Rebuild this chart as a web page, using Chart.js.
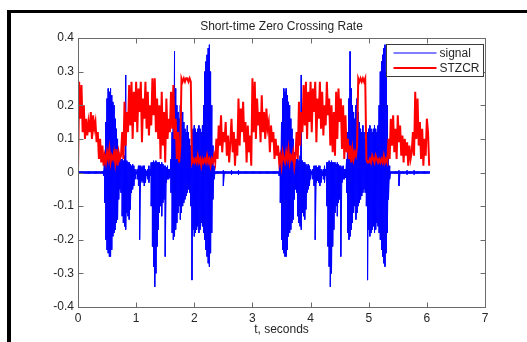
<!DOCTYPE html>
<html><head><meta charset="utf-8">
<script src="https://cdn.jsdelivr.net/npm/chart.js@4/dist/chart.umd.min.js"></script>
<style>
html,body{margin:0;padding:0;background:#fff;}
#wrap{position:relative;width:527px;height:342px;overflow:hidden;background:#fff;}
#frame{position:absolute;left:7px;top:10px;width:700px;height:500px;border-top:3px solid #000;border-left:4px solid #000;pointer-events:none;}
canvas{position:absolute;left:0;top:0;}
</style></head><body>
<div id="wrap"><canvas id="c" width="527" height="342"></canvas><div id="frame"></div></div>
<script>
// ---------------- data ----------------
const chartTitle = 'Short-time Zero Crossing Rate';
const xTitle = 't, seconds';
const seriesNames = ['signal', 'STZCR'];
const sampleStep = 0.02; // seconds between samples
const xTickVals = [0,1,2,3,4,5,6,7];
const xTickLabels = ['0','1','2','3','4','5','6','7'];
const yTickVals = [-0.4,-0.3,-0.2,-0.1,0,0.1,0.2,0.3,0.4];
const yTickLabels = ['-0.4','-0.3','-0.2','-0.1','0','0.1','0.2','0.3','0.4'];

// signal: upper envelope per sample
const sigHi = [
0.003,0.003,0.003,0.003,0.003,0.003,0.003,0.003,0.003,0.003,
0.003,0.003,0.003,0.003,0.003,0.003,0.003,0.003,0.003,0.003,
0.003,0.003,0.005,0.06,0.15,0.22,0.25,0.24,0.25,0.23,
0.21,0.2,0.16,0.13,0.1,0.06,0.05,0.04,0.04,0.035,
0.05,0.29,0.035,0.03,0.03,0.025,0.02,0.025,0.02,0.01,
0.005,0.01,0.02,0.02,0.02,0.015,0.02,0.02,0.01,0.005,
0.01,0.02,0.01,0.03,0.03,0.035,0.03,0.035,0.03,0.03,
0.03,0.025,0.03,0.025,0.02,0.02,0.015,0.02,0.01,0.01,
0.04,0.12,0.22,0.36,0.25,0.2,0.18,0.16,0.2,0.22,
0.18,0.15,0.13,0.12,0.14,0.12,0.1,0.08,0.12,0.13,
0.14,0.13,0.12,0.13,0.14,0.13,0.12,0.14,0.2,0.3,
0.33,0.35,0.37,0.38,0.3,0.2,0.08,0.02,0.003,0.003,
0.003,0.003,0.003,0.003,0.003,0.006,0.003,0.003,0.003,0.003,
0.003,0.003,0.006,0.003,0.003,0.003,0.003,0.003,0.006,0.003,
0.003,0.003,0.003,0.003,0.003,0.003,0.003,0.003,0.003,0.003,
0.003,0.003,0.003,0.003,0.003,0.003,0.003,0.003,0.003,0.003,
0.003,0.003,0.003,0.003,0.003,0.003,0.003,0.003,0.003,0.003,
0.003,0.003,0.003,0.005,0.06,0.15,0.22,0.25,0.24,0.25,
0.23,0.21,0.2,0.16,0.13,0.1,0.06,0.05,0.04,0.04,
0.035,0.05,0.29,0.035,0.03,0.03,0.025,0.02,0.025,0.02,
0.01,0.005,0.01,0.02,0.02,0.02,0.015,0.02,0.02,0.01,
0.005,0.01,0.02,0.01,0.03,0.03,0.035,0.03,0.035,0.03,
0.03,0.03,0.025,0.03,0.025,0.02,0.02,0.015,0.02,0.01,
0.01,0.04,0.12,0.22,0.36,0.25,0.2,0.18,0.16,0.2,
0.22,0.18,0.15,0.13,0.12,0.14,0.12,0.1,0.08,0.12,
0.13,0.14,0.13,0.12,0.13,0.14,0.13,0.12,0.14,0.2,
0.3,0.33,0.35,0.37,0.38,0.3,0.2,0.08,0.02,0.003,
0.003,0.003,0.003,0.003,0.003,0.003,0.006,0.003,0.003,0.003,
0.003,0.003,0.003,0.006,0.003,0.003,0.003,0.003,0.003,0.006,
0.003,0.003,0.003,0.003,0.003,0.003,0.003,0.003,0.003,0.003,
0.003,0.003,0.003
];
// signal: lower envelope per sample
const sigLo = [
-0.003,-0.003,-0.003,-0.003,-0.003,-0.003,-0.003,-0.003,-0.003,-0.003,
-0.003,-0.003,-0.003,-0.003,-0.003,-0.003,-0.003,-0.003,-0.003,-0.003,
-0.003,-0.003,-0.01,-0.09,-0.2,-0.23,-0.24,-0.25,-0.25,-0.23,
-0.19,-0.18,-0.17,-0.15,-0.14,-0.08,-0.05,-0.06,-0.13,-0.15,
-0.16,-0.17,-0.12,-0.13,-0.14,-0.11,-0.06,-0.05,-0.04,-0.02,
-0.005,-0.02,-0.04,-0.2,-0.03,-0.025,-0.03,-0.04,-0.03,-0.01,
-0.02,-0.03,-0.01,-0.1,-0.22,-0.28,-0.34,-0.3,-0.22,-0.17,
-0.12,-0.1,-0.13,-0.09,-0.08,-0.25,-0.03,-0.02,-0.02,-0.015,
-0.06,-0.18,-0.2,-0.19,-0.17,-0.15,-0.12,-0.1,-0.14,-0.12,
-0.1,-0.09,-0.08,-0.07,-0.06,-0.05,-0.06,-0.1,-0.32,-0.17,
-0.19,-0.18,-0.17,-0.16,-0.18,-0.17,-0.15,-0.16,-0.18,-0.2,
-0.23,-0.25,-0.27,-0.28,-0.24,-0.18,-0.08,-0.02,-0.003,-0.003,
-0.003,-0.003,-0.003,-0.003,-0.003,-0.04,-0.003,-0.003,-0.003,-0.003,
-0.003,-0.003,-0.006,-0.003,-0.003,-0.003,-0.003,-0.003,-0.006,-0.003,
-0.003,-0.003,-0.003,-0.003,-0.003,-0.003,-0.003,-0.003,-0.003,-0.003,
-0.003,-0.003,-0.003,-0.003,-0.003,-0.003,-0.003,-0.003,-0.003,-0.003,
-0.003,-0.003,-0.003,-0.003,-0.003,-0.003,-0.003,-0.003,-0.003,-0.003,
-0.003,-0.003,-0.003,-0.01,-0.09,-0.2,-0.23,-0.24,-0.25,-0.25,
-0.23,-0.19,-0.18,-0.17,-0.15,-0.14,-0.08,-0.05,-0.06,-0.13,
-0.15,-0.16,-0.17,-0.12,-0.13,-0.14,-0.11,-0.06,-0.05,-0.04,
-0.02,-0.005,-0.02,-0.04,-0.2,-0.03,-0.025,-0.03,-0.04,-0.03,
-0.01,-0.02,-0.03,-0.01,-0.1,-0.22,-0.28,-0.34,-0.3,-0.22,
-0.17,-0.12,-0.1,-0.13,-0.09,-0.08,-0.25,-0.03,-0.02,-0.02,
-0.015,-0.06,-0.18,-0.2,-0.19,-0.17,-0.15,-0.12,-0.1,-0.14,
-0.12,-0.1,-0.09,-0.08,-0.07,-0.06,-0.05,-0.06,-0.1,-0.32,
-0.17,-0.19,-0.18,-0.17,-0.16,-0.18,-0.17,-0.15,-0.16,-0.18,
-0.2,-0.23,-0.25,-0.27,-0.28,-0.24,-0.18,-0.08,-0.02,-0.003,
-0.003,-0.003,-0.003,-0.003,-0.003,-0.003,-0.04,-0.003,-0.003,-0.003,
-0.003,-0.003,-0.003,-0.006,-0.003,-0.003,-0.003,-0.003,-0.003,-0.006,
-0.003,-0.003,-0.003,-0.003,-0.003,-0.003,-0.003,-0.003,-0.003,-0.003,
-0.003,-0.003,-0.003
];
// short-time zero crossing rate per sample
const stzcr = [
0.00,0.27,0.16,0.26,0.12,0.20,0.10,0.16,0.11,0.15,
0.12,0.18,0.10,0.17,0.13,0.15,0.09,0.12,0.04,0.10,
0.03,0.08,0.02,0.05,0.03,0.06,0.04,0.07,0.03,0.05,
0.04,0.06,0.03,0.07,0.02,0.06,0.04,0.05,0.12,0.04,
0.21,0.08,0.18,0.12,0.26,0.14,0.27,0.10,0.24,0.15,
0.27,0.12,0.25,0.18,0.27,0.09,0.22,0.16,0.27,0.13,
0.24,0.11,0.20,0.14,0.28,0.17,0.28,0.12,0.22,0.10,
0.20,0.04,0.24,0.08,0.18,0.03,0.22,0.10,0.16,0.12,
0.24,0.13,0.26,0.10,0.16,0.04,0.12,0.03,0.08,0.28,
0.27,0.28,0.27,0.28,0.28,0.27,0.28,0.27,0.03,0.04,
0.03,0.04,0.03,0.05,0.03,0.04,0.02,0.04,0.03,0.04,
0.03,0.05,0.03,0.04,0.02,0.04,0.03,0.05,0.03,0.10,
0.04,0.14,0.08,0.17,0.06,0.12,0.09,0.15,0.05,0.11,
0.03,0.09,0.16,0.06,0.12,0.02,0.10,0.05,0.22,0.08,
0.19,0.12,0.21,0.09,0.15,0.03,0.14,0.06,0.11,0.02,
0.28,0.12,0.27,0.10,0.22,0.14,0.18,0.09,0.23,0.12,
0.18,0.10,0.19,0.13,0.15,0.06,0.14,0.09,0.12,0.04,
0.10,0.05,0.08,0.03,0.05,0.02,0.06,0.04,0.03,0.06,
0.04,0.07,0.03,0.05,0.04,0.06,0.02,0.05,0.12,0.04,
0.21,0.08,0.18,0.12,0.26,0.14,0.27,0.10,0.24,0.15,
0.27,0.12,0.25,0.18,0.27,0.09,0.22,0.16,0.27,0.13,
0.24,0.11,0.20,0.14,0.27,0.17,0.22,0.08,0.20,0.06,
0.18,0.05,0.24,0.10,0.25,0.15,0.22,0.07,0.20,0.04,
0.17,0.06,0.10,0.04,0.08,0.03,0.07,0.04,0.06,0.05,
0.08,0.28,0.27,0.28,0.27,0.28,0.27,0.28,0.04,0.03,
0.03,0.04,0.03,0.05,0.04,0.03,0.05,0.04,0.03,0.04,
0.03,0.04,0.03,0.05,0.03,0.04,0.03,0.10,0.04,0.16,
0.08,0.17,0.06,0.13,0.04,0.17,0.09,0.14,0.05,0.11,
0.03,0.10,0.05,0.09,0.02,0.08,0.04,0.06,0.12,0.05,
0.24,0.10,0.22,0.08,0.15,0.04,0.13,0.02,0.10,0.05,
0.16,0.12,0.02
];

// ---------------- build library data ----------------
const sigPts = [];
sigHi.forEach((h, i) => {
  const t = Math.round(i * sampleStep * 1000) / 1000;
  sigPts.push({x: t, y: h}, {x: t, y: sigLo[i]});
});
const zcrPts = stzcr.map((v, i) => ({x: Math.round(i * sampleStep * 1000) / 1000, y: v}));

const FONT = 'Liberation Sans, Arial, Helvetica, sans-serif';
const AXIS_COLOR = '#6b6b6b';
const TEXT_COLOR = '#262626';

const axesBox = {
  id: 'axesBox',
  afterDatasetsDraw(chart) {
    const {ctx, chartArea: a, scales: {x, y}} = chart;
    const L = Math.round(a.left) + 0.5, R = Math.round(a.right) + 0.5;
    const T = Math.round(a.top) + 0.5, B = Math.round(a.bottom) + 0.5;
    ctx.save();
    ctx.strokeStyle = AXIS_COLOR; ctx.lineWidth = 1;
    ctx.strokeRect(L, T, R - L, B - T);
    const len = 5;
    ctx.beginPath();
    x.ticks.forEach(tk => {
      const px = Math.round(x.getPixelForValue(tk.value)) + 0.5;
      ctx.moveTo(px, B); ctx.lineTo(px, B - len);
      ctx.moveTo(px, T); ctx.lineTo(px, T + len);
    });
    y.ticks.forEach(tk => {
      const py = Math.round(y.getPixelForValue(tk.value)) + 0.5;
      ctx.moveTo(L, py); ctx.lineTo(L + len, py);
      ctx.moveTo(R, py); ctx.lineTo(R - len, py);
    });
    ctx.stroke();
    ctx.restore();
  }
};

const boxLegend = {
  id: 'boxLegend',
  afterDraw(chart) {
    const {ctx, chartArea: a} = chart;
    const w = 97, h = 32;
    const bx = Math.round(a.right) - 99 + 0.5, by = Math.round(a.top) + 6 + 0.5;
    ctx.save();
    ctx.fillStyle = '#ffffff';
    ctx.fillRect(bx, by, w, h);
    ctx.strokeStyle = '#3a3a3a'; ctx.lineWidth = 1;
    ctx.strokeRect(bx, by, w, h);
    ctx.font = '12px ' + FONT;
    ctx.textBaseline = 'middle';
    ctx.textAlign = 'left';
    chart.data.datasets.forEach((ds, i) => {
      const ly = Math.round(by + 8 + i * 15);
      ctx.strokeStyle = ds.borderColor;
      ctx.lineWidth = ds.borderWidth;
      ctx.beginPath();
      ctx.moveTo(bx + 7, ly); ctx.lineTo(bx + 50, ly);
      ctx.stroke();
      ctx.fillStyle = TEXT_COLOR;
      ctx.fillText(ds.label, bx + 53, ly + 0.5);
    });
    ctx.restore();
  }
};

new Chart(document.getElementById('c'), {
  type: 'line',
  data: {
    datasets: [
      {label: seriesNames[0], data: sigPts, borderColor: '#0000ff', borderWidth: 1, pointRadius: 0, tension: 0, order: 1},
      {label: seriesNames[1], data: zcrPts, borderColor: '#ff0000', borderWidth: 2, pointRadius: 0, tension: 0, order: 0}
    ]
  },
  options: {
    responsive: false,
    animation: false,
    events: [],
    layout: {padding: {left: 0, right: 42, top: 0, bottom: 0}},
    plugins: {
      legend: {display: false},
      tooltip: {enabled: false},
      title: {
        display: true, text: chartTitle, fullSize: false,
        color: TEXT_COLOR, font: {family: FONT, size: 12, weight: 'normal'},
        padding: {top: 19, bottom: 4.6}
      }
    },
    scales: {
      x: {
        type: 'linear', min: 0, max: 7,
        grid: {display: false, drawTicks: false},
        border: {display: false},
        afterBuildTicks: s => { s.ticks = xTickVals.map(v => ({value: v})); },
        ticks: {
          color: TEXT_COLOR, font: {family: FONT, size: 12}, padding: 4,
          maxRotation: 0, autoSkip: false,
          callback: (v) => xTickLabels[xTickVals.indexOf(v)]
        },
        title: {display: true, text: xTitle, color: TEXT_COLOR, font: {family: FONT, size: 12}, padding: {top: 0, bottom: 4.8}},
        afterFit: s => { s.height = 35; }
      },
      y: {
        type: 'linear', min: -0.4, max: 0.4,
        grid: {display: false, drawTicks: false},
        border: {display: false},
        afterBuildTicks: s => { s.ticks = yTickVals.map(v => ({value: v})); },
        ticks: {
          color: TEXT_COLOR, font: {family: FONT, size: 12}, padding: 4, autoSkip: false,
          callback: (v) => { const k = yTickVals.findIndex(t => Math.abs(t - v) < 1e-9); return yTickLabels[k]; }
        },
        afterFit: s => { s.width = 78; }
      }
    }
  },
  plugins: [axesBox, boxLegend]
});
</script>
</body></html>
